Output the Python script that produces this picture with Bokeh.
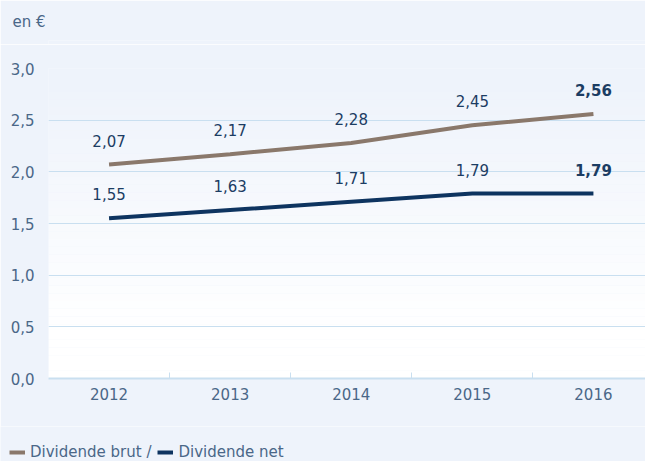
from bokeh.plotting import figure
from bokeh.models import (ColumnDataSource, FixedTicker, Range1d, Legend, LegendItem,
                          BoxAnnotation, LabelSet)
from bokeh.core.properties import value
from bokeh.layouts import column, row
from bokeh.embed import file_html
from bokeh.resources import INLINE

years = ["2012", "2013", "2014", "2015", "2016"]
brut = [2.07, 2.17, 2.28, 2.45, 2.56]
net = [1.55, 1.63, 1.71, 1.79, 1.79]
y_ticks = [0.0, 0.5, 1.0, 1.5, 2.0, 2.5, 3.0]
y_tick_labels = ["0,0", "0,5", "1,0", "1,5", "2,0", "2,5", "3,0"]
series_names = ["Dividende brut /", "Dividende net"]
unit_text = "en €"

BG = "#eef3fb"
TXT = "#4a6788"
LBL = "#1c3d63"
GRID = "#c9dff0"
BRUT_C = "#8a786b"
NET_C = "#0e3460"
FONT = "DejaVu Sans"

xs = [i + 0.5 for i in range(len(years))]

def fmt(v):
    return f"{v:.2f}".replace(".", ",")

src_b = ColumnDataSource(dict(x=xs, y=brut, t=[fmt(v) for v in brut]))
src_n = ColumnDataSource(dict(x=xs, y=net, t=[fmt(v) for v in net]))

TOP_H = 44
LEG_H = 35
MAIN_H = 461 - TOP_H - LEG_H


def strip(h, **kw):
    f = figure(width=645, height=h, output_backend="svg", toolbar_location=None,
               x_range=Range1d(100, 101), y_range=Range1d(100, 101),
               x_axis_location=None, y_axis_location=None,
               min_border=0, min_border_left=0, min_border_right=0,
               min_border_top=0, min_border_bottom=0, **kw)
    f.grid.visible = False
    f.outline_line_color = None
    f.background_fill_color = BG
    f.border_fill_color = BG
    return f


# top strip with unit label
top = strip(TOP_H, title=unit_text)
top.title.text_font = FONT
top.title.text_font_size = "15px"
top.title.text_font_style = "normal"
top.title.text_color = TXT
top.title.offset = -36
top.title.standoff = 20

p = figure(width=645, height=MAIN_H, output_backend="svg", toolbar_location=None,
           x_range=Range1d(0, 4.93), y_range=Range1d(0, 3.0),
           min_border_left=48, min_border_right=0, min_border_top=68 - TOP_H,
           min_border_bottom=MAIN_H - (378 - TOP_H))
p.background_fill_color = BG
p.border_fill_color = BG
p.outline_line_color = None

# vertical gradient of plot area (decoration)
n_bands = 40
top_c = (0xee, 0xf3, 0xfb)
bot_c = (0xff, 0xff, 0xff)
for i in range(n_bands):
    b = 3.0 * i / n_bands
    t = 3.0 * (i + 1) / n_bands
    f = min(1.0, max(0.0, (b - 0.4) / 2.4))
    c = tuple(int(round(bot_c[k] + (top_c[k] - bot_c[k]) * f)) for k in range(3))
    p.add_layout(BoxAnnotation(bottom=b, top=t, fill_color="#%02x%02x%02x" % c,
                               fill_alpha=1.0, line_color=None, level="image"))

r_b = p.line("x", "y", source=src_b, line_color=BRUT_C, line_width=4)
r_n = p.line("x", "y", source=src_n, line_color=NET_C, line_width=4)

for src, vals in ((src_b, brut), (src_n, net)):
    n = len(vals)
    s1 = ColumnDataSource(dict(x=src.data["x"][:n-1], y=vals[:n-1], t=src.data["t"][:n-1]))
    s2 = ColumnDataSource(dict(x=src.data["x"][n-1:], y=vals[n-1:], t=src.data["t"][n-1:]))
    p.add_layout(LabelSet(x="x", y="y", text="t", source=s1, text_align="center",
                          text_baseline="bottom", y_offset=18, text_font=value(FONT),
                          text_font_size="15px", text_color=LBL))
    p.add_layout(LabelSet(x="x", y="y", text="t", source=s2, text_align="center",
                          text_baseline="bottom", y_offset=18, text_font=value(FONT),
                          text_font_size="15px", text_color=LBL, text_font_style="bold"))

# axes
p.yaxis.ticker = FixedTicker(ticks=y_ticks)
p.yaxis.major_label_overrides = {v: s for v, s in zip(y_ticks, y_tick_labels)}
p.yaxis.axis_line_color = None
p.yaxis.major_tick_line_color = None
p.yaxis.minor_tick_line_color = None
p.yaxis.major_label_text_font = FONT
p.yaxis.major_label_text_font_size = "15px"
p.yaxis.major_label_text_color = TXT
p.yaxis.major_label_standoff = 8

p.xaxis.ticker = FixedTicker(ticks=xs, minor_ticks=[1, 2, 3, 4])
p.xaxis.major_label_overrides = {x: y for x, y in zip(xs, years)}
p.xaxis.axis_line_color = GRID
p.xaxis.axis_line_width = 2
p.xaxis.major_tick_line_color = None
p.xaxis.minor_tick_line_color = GRID
p.xaxis.minor_tick_in = 6
p.xaxis.minor_tick_out = 0
p.xaxis.major_label_text_font = FONT
p.xaxis.major_label_text_font_size = "15px"
p.xaxis.major_label_text_color = TXT
p.xaxis.major_label_standoff = 3

p.xgrid.grid_line_color = None
p.ygrid.ticker = FixedTicker(ticks=y_ticks[1:])
p.ygrid.grid_line_color = GRID
p.ygrid.grid_line_width = 1

# legend strip below the chart (series drawn off-range; only the legend shows)
lf = strip(LEG_H)
lb = lf.line("x", "y", source=src_b, line_color=BRUT_C, line_width=4)
ln = lf.line("x", "y", source=src_n, line_color=NET_C, line_width=4)
legend = Legend(items=[LegendItem(label=series_names[0], renderers=[lb]),
                       LegendItem(label=series_names[1], renderers=[ln])],
                orientation="horizontal", location=(9, 0),
                background_fill_alpha=0, border_line_color=None,
                label_text_font=FONT, label_text_font_size="15px",
                label_text_color=TXT, glyph_width=16, glyph_height=14,
                label_standoff=5, spacing=6, padding=0, margin=0)
lf.add_layout(legend, "center")

layout = column(top, p, row(lf, spacing=0), spacing=0)
open("out.html", "w").write(file_html(layout, INLINE))
